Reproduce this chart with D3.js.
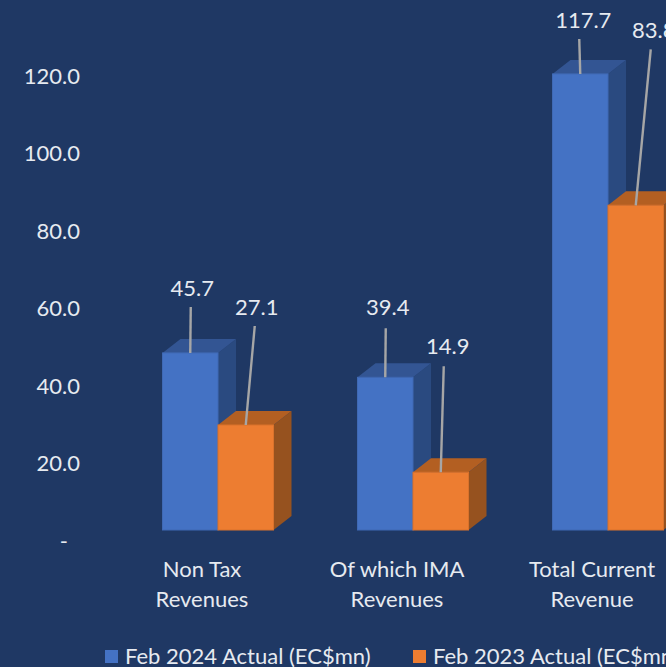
<!DOCTYPE html>
<html>
<head>
<meta charset="utf-8">
<script src="https://cdnjs.cloudflare.com/ajax/libs/d3/7.8.5/d3.min.js"></script>
<style>
html, body { margin: 0; padding: 0; background: #1f3864; overflow: hidden; }
svg { display: block; }
text { font-family: Lato, "Open Sans", sans-serif; fill: #e6eaf0; }
</style>
</head>
<body>
<script>
var categories = [["Non Tax", "Revenues"], ["Of which IMA", "Revenues"], ["Total Current", "Revenue"]];
var seriesNames = ["Feb 2024 Actual (EC$mn)", "Feb 2023 Actual (EC$mn)"];
var feb2024 = [45.7, 39.4, 117.7];
var feb2023 = [27.1, 14.9, 83.8];
var yTicks = [0, 20, 40, 60, 80, 100, 120];

var w = 666, h = 667;
var depthX = 18, depthY = 14;
var floorShift = 11; // front of the 3d bars sits above the axis zero
var fontSize = "22px";

var colors = [
    { front: "#4472c4", top: "#335593", side: "#2a4a80", edge: "#3f69b4" },
    { front: "#ed7d31", top: "#b35f22", side: "#96521f", edge: "#d9722c" }
];

// where each data label sits relative to its bar, by series then category
var labelOffsets = [
    [{ x: 2, y: -57, lx: 0.5, ly: -46 }, { x: 2.5, y: -62, lx: 0.5, ly: -49 }, { x: 3, y: -46, lx: -1, ly: -35 }],
    [{ x: 11, y: -110, lx: 9, ly: -99 }, { x: 7, y: -118, lx: 3, ly: -106 }, { x: 18, y: -167, lx: 15, ly: -156 }]
];

var svg = d3.select("body")
    .append("svg")
    .attr("width", w)
    .attr("height", h);

var x0 = d3.scaleBand()
    .domain(d3.range(categories.length))
    .range([120.5, 705.5]);

var x1 = d3.scaleBand()
    .domain([0, 1])
    .range([-55.5, 55.5]);

var y = d3.scaleLinear()
    .domain([0, 120])
    .range([541, 76]);

// y axis
var yAxis = svg.append("g")
    .attr("transform", "translate(80,0)")
    .call(d3.axisLeft(y)
        .tickValues(yTicks)
        .tickSize(0)
        .tickPadding(0)
        .tickFormat(function (d) {
            return d === 0 ? "-" : d3.format(".1f")(d);
        }));
yAxis.select(".domain").remove();
yAxis.selectAll("text")
    .attr("x", function (d) { return d === 0 ? -12 : 0; })
    .style("font-size", fontSize)
    .style("font-family", "Lato, sans-serif");

// category axis
var xAxis = svg.append("g")
    .attr("transform", "translate(-16,0)")
    .call(d3.axisBottom(x0).tickSize(0).tickFormat(""));
xAxis.select(".domain").remove();
xAxis.selectAll(".tick").each(function (d) {
    d3.select(this).select("text").remove();
    d3.select(this).selectAll("text.cat")
        .data(categories[d])
        .enter()
        .append("text")
        .attr("class", "cat")
        .attr("text-anchor", "middle")
        .attr("y", function (t, i) { return 577 + i * 30; })
        .style("font-size", fontSize)
        .text(function (t) { return t; });
});

// bars
var rows = [];
[feb2024, feb2023].forEach(function (values, s) {
    values.forEach(function (v, c) {
        rows.push({ s: s, c: c, value: v });
    });
});

function left(d) { return x0(d.c) + x0.bandwidth() / 2 + x1(d.s); }
function right(d) { return left(d) + x1.bandwidth(); }
function topY(d) { return y(d.value) - floorShift; }
function baseY() { return y(0) - floorShift; }

function points(list) {
    return list.map(function (p) { return p.join(","); }).join(" ");
}

var bars = svg.selectAll("g.bar")
    .data(rows)
    .enter()
    .append("g")
    .attr("class", "bar");

bars.append("polygon")
    .attr("fill", function (d) { return colors[d.s].side; })
    .attr("points", function (d) {
        return points([
            [right(d), topY(d)],
            [right(d) + depthX, topY(d) - depthY],
            [right(d) + depthX, baseY() - depthY],
            [right(d), baseY()]
        ]);
    });

bars.append("polygon")
    .attr("fill", function (d) { return colors[d.s].top; })
    .attr("points", function (d) {
        return points([
            [left(d), topY(d)],
            [left(d) + depthX, topY(d) - depthY],
            [right(d) + depthX, topY(d) - depthY],
            [right(d), topY(d)]
        ]);
    });

bars.append("rect")
    .attr("x", left)
    .attr("y", topY)
    .attr("width", x1.bandwidth())
    .attr("height", function (d) { return baseY() - topY(d); })
    .attr("fill", function (d) { return colors[d.s].front; })
    .attr("stroke", function (d) { return colors[d.s].edge; })
    .attr("stroke-width", 1);

// leader lines and data labels
var labels = svg.selectAll("g.label")
    .data(rows)
    .enter()
    .append("g")
    .attr("class", "label");

function mid(d) { return left(d) + x1.bandwidth() / 2; }
function off(d) { return labelOffsets[d.s][d.c]; }

labels.append("line")
    .attr("x1", function (d) { return mid(d) + off(d).lx; })
    .attr("y1", function (d) { return topY(d) + off(d).ly; })
    .attr("x2", mid)
    .attr("y2", topY)
    .attr("stroke", "#a6a6a6")
    .attr("stroke-width", 2.4);

labels.append("text")
    .attr("text-anchor", "middle")
    .attr("x", function (d) { return mid(d) + off(d).x; })
    .attr("y", function (d) { return topY(d) + off(d).y; })
    .style("font-size", fontSize)
    .text(function (d) { return d3.format(".1f")(d.value); });

// legend
var legendX = [105, 413];
var legend = svg.selectAll("g.legend")
    .data(seriesNames)
    .enter()
    .append("g")
    .attr("class", "legend")
    .attr("transform", function (d, i) { return "translate(" + legendX[i] + ",650)"; });

legend.append("rect")
    .attr("width", 13)
    .attr("height", 13)
    .attr("fill", function (d, i) { return colors[i].front; });

legend.append("text")
    .attr("x", 20)
    .attr("y", 14)
    .style("font-size", fontSize)
    .text(function (d) { return d; });
</script>
</body>
</html>
